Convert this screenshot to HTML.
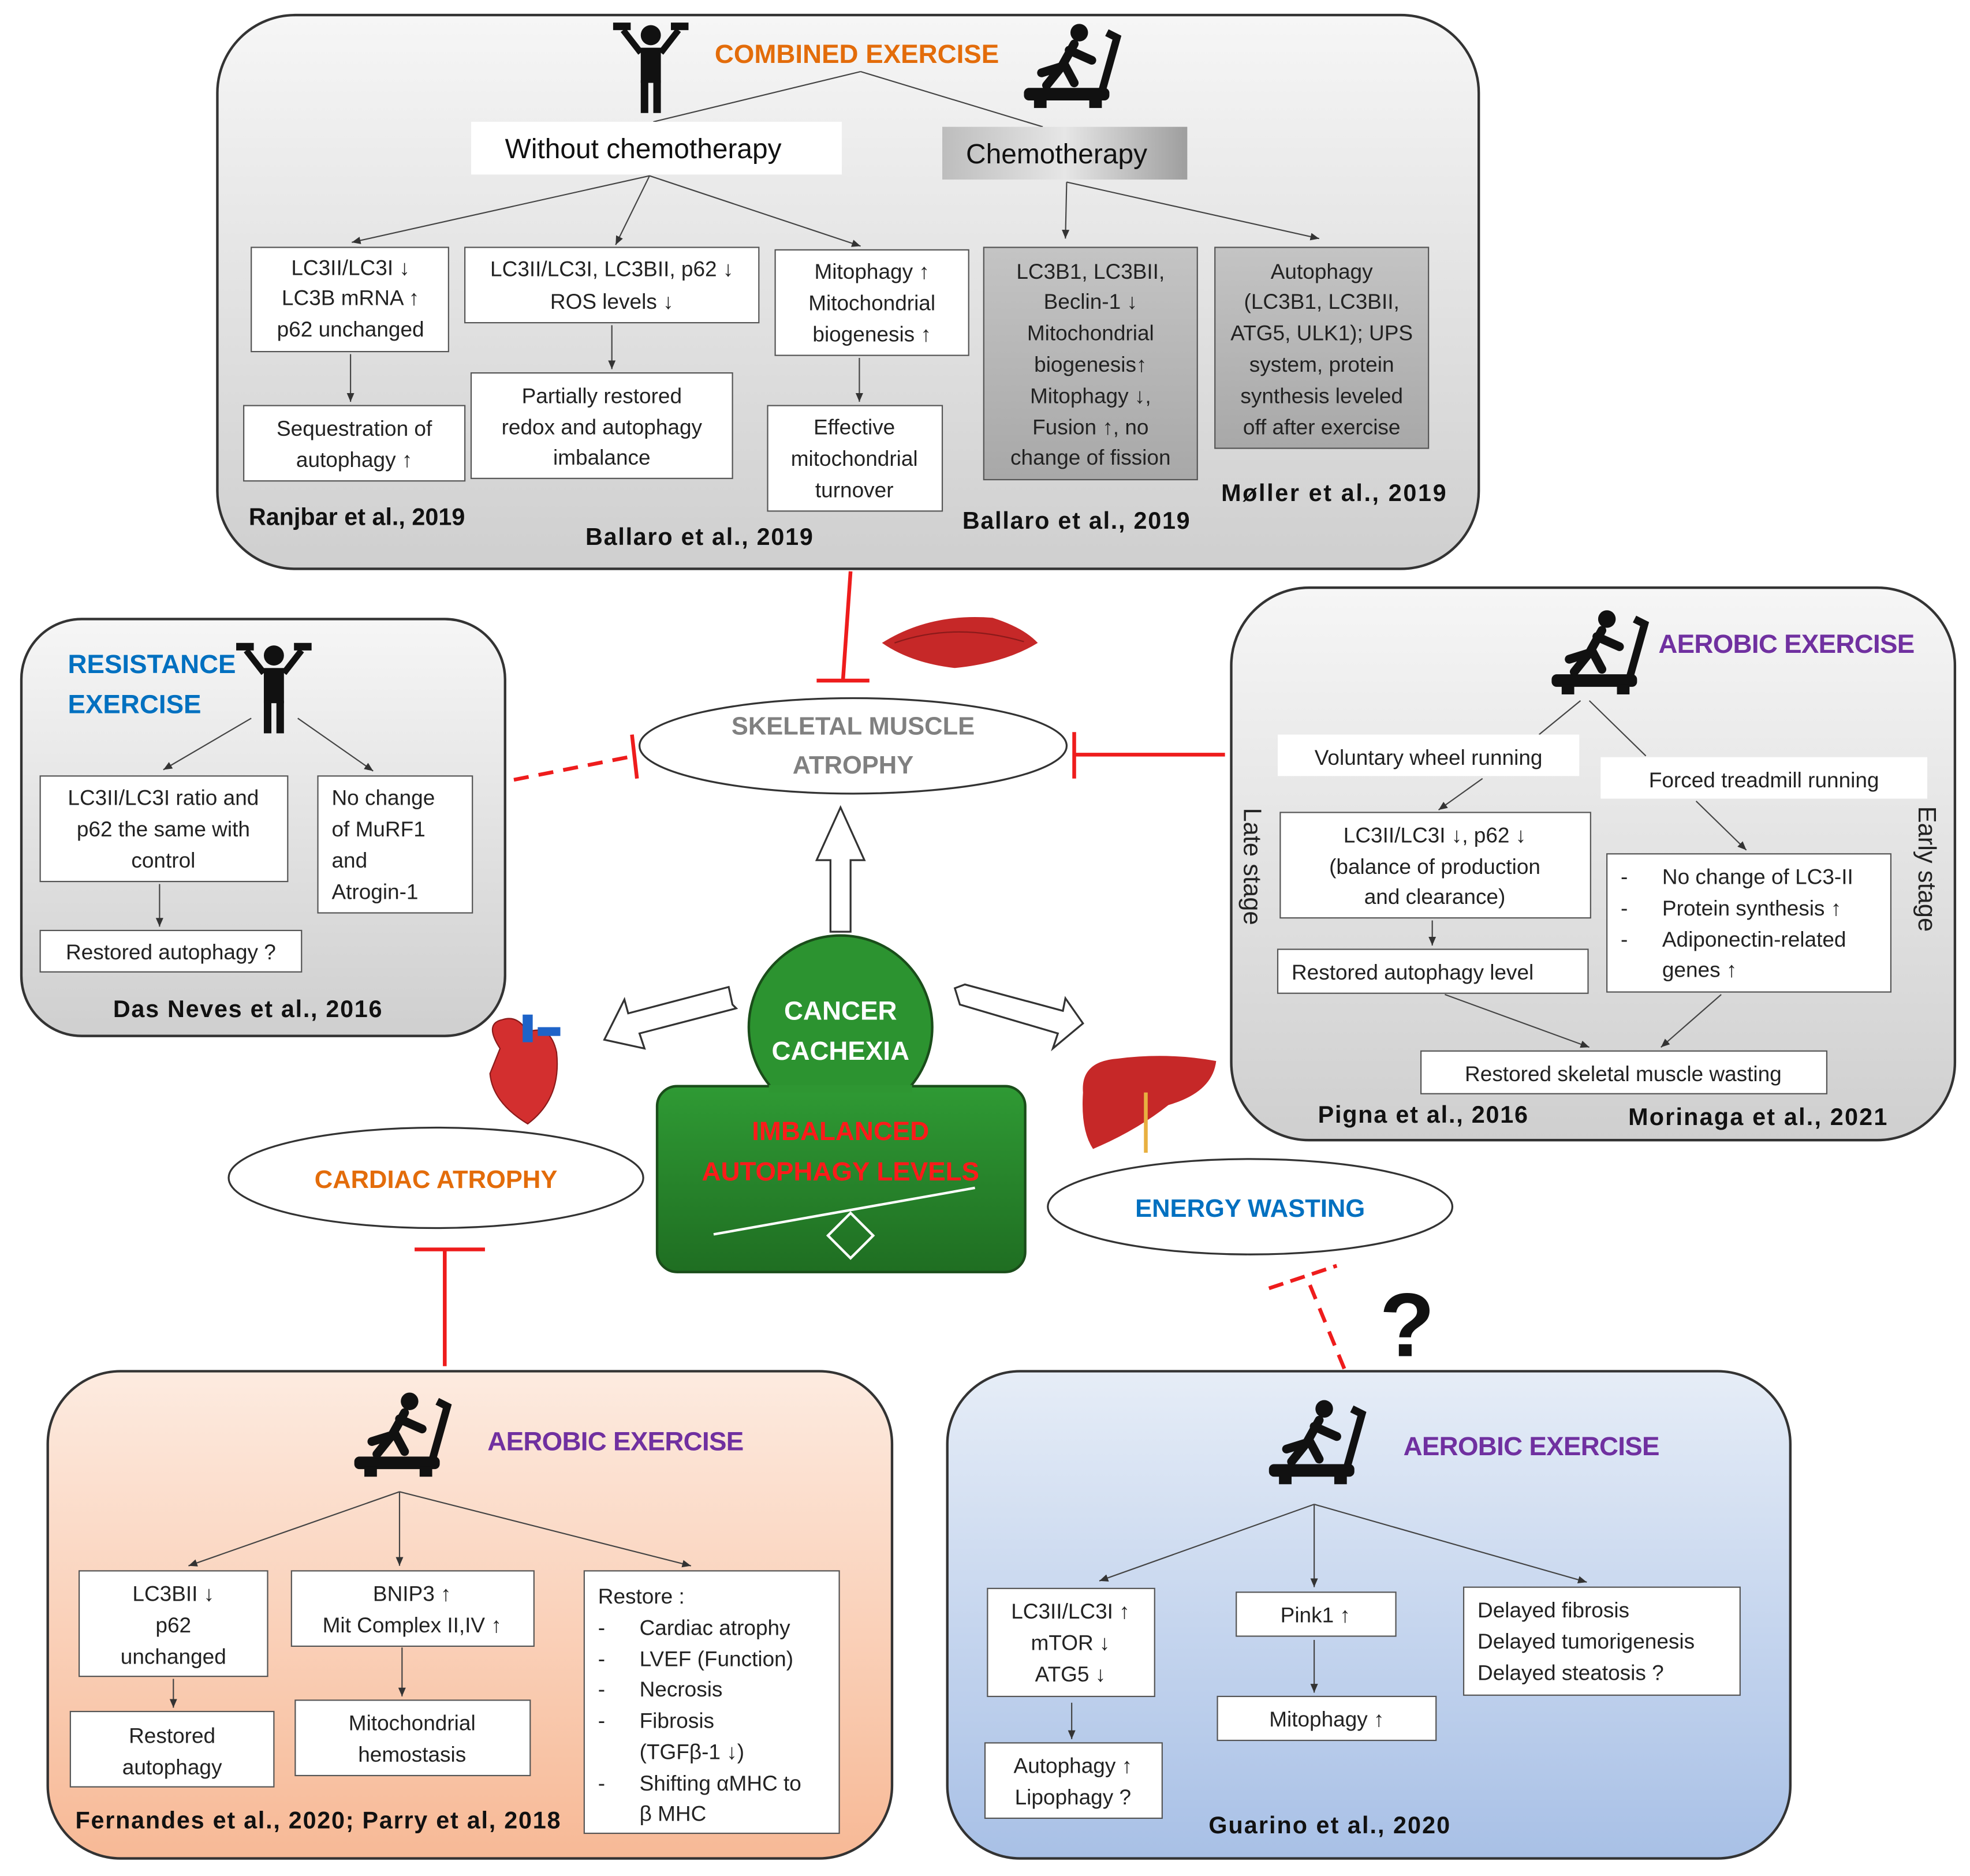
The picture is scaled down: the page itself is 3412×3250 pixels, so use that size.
<!DOCTYPE html>
<html><head><meta charset="utf-8"><style>
html,body{margin:0;padding:0;background:#fff}
svg{display:block}
text{font-family:"Liberation Sans","DejaVu Sans",sans-serif}
</style></head><body>
<svg width="3412" height="3250" viewBox="0 0 1568 1494" preserveAspectRatio="none" xmlns="http://www.w3.org/2000/svg">
<defs>
<linearGradient id="gg" x1="0" y1="0" x2="0" y2="1"><stop offset="0" stop-color="#f6f6f6"/><stop offset="1" stop-color="#cfcfcf"/></linearGradient>
<linearGradient id="pg" x1="0" y1="0" x2="0" y2="1"><stop offset="0" stop-color="#fdebe0"/><stop offset="1" stop-color="#f7b996"/></linearGradient>
<linearGradient id="bg" x1="0" y1="0" x2="0" y2="1"><stop offset="0" stop-color="#e6edf7"/><stop offset="1" stop-color="#a8c0e6"/></linearGradient>
<linearGradient id="cg" x1="0" y1="0" x2="1" y2="0"><stop offset="0" stop-color="#bdbdbd"/><stop offset="0.5" stop-color="#e6e6e6"/><stop offset="1" stop-color="#9e9e9e"/></linearGradient>
<linearGradient id="dg" x1="0" y1="0" x2="0" y2="1"><stop offset="0" stop-color="#c4c4c4"/><stop offset="1" stop-color="#a8a8a8"/></linearGradient>
<linearGradient id="grn" x1="0" y1="0" x2="0" y2="1"><stop offset="0" stop-color="#2f9a34"/><stop offset="1" stop-color="#1f6e22"/></linearGradient>
<marker id="ar" markerWidth="8" markerHeight="8" refX="7" refY="4" orient="auto"><path d="M0,1 L7,4 L0,7 Z" fill="#333"/></marker>
<g id="run"><rect x="0" y="52" width="68" height="10" rx="4" fill="#111"/><rect x="8" y="60" width="10" height="8" fill="#111"/><rect x="52" y="60" width="10" height="8" fill="#111"/><path d="M62,55 L74,12 L66,8" stroke="#111" stroke-width="6" fill="none"/><circle cx="44" cy="8" r="7" fill="#111"/><path d="M40,17 L30,35 L14,40 M36,22 L54,30 M32,33 L40,48 M30,35 L18,50" stroke="#111" stroke-width="7" fill="none" stroke-linecap="round"/></g>
<g id="lift"><circle cx="30" cy="10" r="8" fill="#111"/><rect x="22" y="20" width="16" height="28" fill="#111"/><rect x="22" y="46" width="6" height="26" fill="#111"/><rect x="32" y="46" width="6" height="26" fill="#111"/><path d="M22,24 L8,6 M38,24 L52,6" stroke="#111" stroke-width="5"/><rect x="0" y="0" width="14" height="6" fill="#111"/><rect x="46" y="0" width="14" height="6" fill="#111"/></g>
</defs>

<rect x="173" y="12" width="1004" height="441" rx="62" fill="url(#gg)" stroke="#333" stroke-width="2"/>
<use href="#lift" x="488" y="18"/>
<use href="#run" x="815" y="18"/>
<text x="682" y="50" font-size="21" font-weight="bold" fill="#e36c0a" text-anchor="middle">COMBINED EXERCISE</text>
<line x1="685" y1="57" x2="520" y2="97" stroke="#444" stroke-width="1"/>
<line x1="685" y1="57" x2="830" y2="101" stroke="#444" stroke-width="1"/>
<rect x="375" y="97" width="295" height="42" fill="#fff"/>
<text x="512" y="126" font-size="22" text-anchor="middle" fill="#111">Without chemotherapy</text>
<rect x="750" y="101" width="195" height="42" fill="url(#cg)"/>
<text x="841" y="130" font-size="22" text-anchor="middle" fill="#111">Chemotherapy</text>
<g stroke="#444" stroke-width="1" fill="none" marker-end="url(#ar)">
<line x1="517" y1="140" x2="280" y2="193"/><line x1="517" y1="140" x2="490" y2="195"/><line x1="517" y1="140" x2="685" y2="196"/>
<line x1="849" y1="145" x2="848" y2="190"/><line x1="849" y1="145" x2="1050" y2="190"/>
<line x1="279" y1="282" x2="279" y2="320"/><line x1="487" y1="259" x2="487" y2="294"/><line x1="684" y1="285" x2="684" y2="320"/>
</g>
<g font-size="17" fill="#222" text-anchor="middle">
<rect x="200" y="197" width="157" height="83" fill="#fff" stroke="#555"/>
<text x="279" y="219">LC3II/LC3I ↓</text><text x="279" y="243">LC3B mRNA ↑</text><text x="279" y="268">p62 unchanged</text>
<rect x="370" y="197" width="234" height="60" fill="#fff" stroke="#555"/>
<text x="487" y="220">LC3II/LC3I, LC3BII, p62 ↓</text><text x="487" y="246">ROS levels ↓</text>
<rect x="617" y="199" width="154" height="84" fill="#fff" stroke="#555"/>
<text x="694" y="222">Mitophagy ↑</text><text x="694" y="247">Mitochondrial</text><text x="694" y="272">biogenesis ↑</text>
<rect x="783" y="197" width="170" height="185" fill="url(#dg)" stroke="#555"/>
<text x="868" y="222">LC3B1, LC3BII,</text><text x="868" y="246">Beclin-1 ↓</text><text x="868" y="271">Mitochondrial</text><text x="868" y="296">biogenesis↑</text><text x="868" y="321">Mitophagy ↓,</text><text x="868" y="346">Fusion ↑, no</text><text x="868" y="370">change of fission</text>
<rect x="967" y="197" width="170" height="160" fill="url(#dg)" stroke="#555"/>
<text x="1052" y="222">Autophagy</text><text x="1052" y="246">(LC3B1, LC3BII,</text><text x="1052" y="271">ATG5, ULK1); UPS</text><text x="1052" y="296">system, protein</text><text x="1052" y="321">synthesis leveled</text><text x="1052" y="346">off after exercise</text>
<rect x="194" y="323" width="176" height="60" fill="#fff" stroke="#555"/>
<text x="282" y="347">Sequestration of</text><text x="282" y="372">autophagy ↑</text>
<rect x="375" y="297" width="208" height="84" fill="#fff" stroke="#555"/>
<text x="479" y="321">Partially restored</text><text x="479" y="346">redox and autophagy</text><text x="479" y="370">imbalance</text>
<rect x="611" y="323" width="139" height="84" fill="#fff" stroke="#555"/>
<text x="680" y="346">Effective</text><text x="680" y="371">mitochondrial</text><text x="680" y="396">turnover</text>
</g>
<g font-size="19" font-weight="bold" fill="#111">
<text x="198" y="418">Ranjbar et al., 2019</text>
<text x="466" y="434" textLength="181">Ballaro et al., 2019</text>
<text x="766" y="421" textLength="181">Ballaro et al., 2019</text>
<text x="972" y="399" textLength="179">Møller et al., 2019</text>
</g>

<rect x="17" y="493" width="385" height="332" rx="48" fill="url(#gg)" stroke="#333" stroke-width="2"/>
<text x="54" y="536" font-size="21" font-weight="bold" fill="#0070c0">RESISTANCE</text>
<text x="54" y="568" font-size="21" font-weight="bold" fill="#0070c0">EXERCISE</text>
<use href="#lift" x="188" y="512"/>
<g stroke="#444" stroke-width="1" fill="none" marker-end="url(#ar)">
<line x1="200" y1="572" x2="130" y2="613"/><line x1="237" y1="572" x2="297" y2="614"/><line x1="127" y1="704" x2="127" y2="738"/>
</g>
<g font-size="17" fill="#222" text-anchor="middle">
<rect x="32" y="618" width="197" height="84" fill="#fff" stroke="#555"/>
<text x="130" y="641">LC3II/LC3I ratio  and</text><text x="130" y="666">p62 the same with</text><text x="130" y="691">control</text>
<rect x="253" y="618" width="123" height="109" fill="#fff" stroke="#555"/>
<g text-anchor="start"><text x="264" y="641">No change</text><text x="264" y="666">of MuRF1</text><text x="264" y="691">and</text><text x="264" y="716">Atrogin-1</text></g>
<rect x="32" y="741" width="208" height="33" fill="#fff" stroke="#555"/>
<text x="136" y="764">Restored autophagy ?</text>
</g>
<text x="90" y="810" font-size="19" font-weight="bold" fill="#111" textLength="214">Das Neves et al., 2016</text>

<rect x="980" y="468" width="576" height="440" rx="62" fill="url(#gg)" stroke="#333" stroke-width="2"/>
<use href="#run" x="1235" y="485"/>
<text x="1320" y="520" font-size="21" font-weight="bold" fill="#7030a0" textLength="204">AEROBIC EXERCISE</text>
<line x1="1258" y1="558" x2="1225" y2="585" stroke="#444"/>
<line x1="1265" y1="558" x2="1310" y2="602" stroke="#444"/>
<rect x="1017" y="585" width="240" height="33" fill="#fff"/>
<text x="1137" y="609" font-size="17" text-anchor="middle" fill="#222">Voluntary wheel running</text>
<rect x="1274" y="603" width="260" height="33" fill="#fff"/>
<text x="1404" y="627" font-size="17" text-anchor="middle" fill="#222">Forced treadmill running</text>
<g stroke="#444" stroke-width="1" fill="none" marker-end="url(#ar)">
<line x1="1180" y1="620" x2="1145" y2="645"/><line x1="1350" y1="638" x2="1390" y2="677"/><line x1="1140" y1="733" x2="1140" y2="753"/>
<line x1="1150" y1="792" x2="1265" y2="834"/><line x1="1370" y1="792" x2="1322" y2="834"/>
</g>
<text transform="translate(990,690) rotate(90)" font-size="20" fill="#222" text-anchor="middle">Late stage</text>
<text transform="translate(1527,692) rotate(90)" font-size="20" fill="#222" text-anchor="middle">Early stage</text>
<g font-size="17" fill="#222">
<rect x="1019" y="647" width="247" height="84" fill="#fff" stroke="#555"/>
<g text-anchor="middle"><text x="1142" y="671">LC3II/LC3I ↓, p62 ↓</text><text x="1142" y="696">(balance of production</text><text x="1142" y="720">and clearance)</text></g>
<rect x="1279" y="680" width="226" height="110" fill="#fff" stroke="#555"/>
<text x="1290" y="704">-</text><text x="1323" y="704">No change of LC3-II</text>
<text x="1290" y="729">-</text><text x="1323" y="729">Protein synthesis ↑</text>
<text x="1290" y="754">-</text><text x="1323" y="754">Adiponectin-related</text>
<text x="1323" y="778">genes  ↑</text>
<rect x="1017" y="756" width="247" height="35" fill="#fff" stroke="#555"/>
<text x="1028" y="780">Restored autophagy level</text>
<rect x="1131" y="837" width="323" height="34" fill="#fff" stroke="#555"/>
<text x="1292" y="861" text-anchor="middle">Restored skeletal muscle wasting</text>
</g>
<text x="1049" y="894" font-size="19" font-weight="bold" fill="#111" textLength="167">Pigna et al., 2016</text>
<text x="1296" y="896" font-size="19" font-weight="bold" fill="#111" textLength="206">Morinaga et al., 2021</text>

<circle cx="669" cy="818" r="73" fill="#2c9330" stroke="#1a4d1a" stroke-width="2"/>
<rect x="523" y="865" width="293" height="148" rx="16" fill="url(#grn)" stroke="#1a4d1a" stroke-width="2"/>
<rect x="612" y="864" width="114" height="6" fill="#2e9632"/>
<text x="669" y="812" font-size="21" font-weight="bold" fill="#fff" text-anchor="middle">CANCER</text>
<text x="669" y="844" font-size="21" font-weight="bold" fill="#fff" text-anchor="middle">CACHEXIA</text>
<text x="669" y="908" font-size="21" font-weight="bold" fill="#ff1a1a" text-anchor="middle">IMBALANCED</text>
<text x="669" y="940" font-size="21" font-weight="bold" fill="#ff1a1a" text-anchor="middle">AUTOPHAGY LEVELS</text>
<line x1="568" y1="983" x2="776" y2="946" stroke="#fff" stroke-width="2"/>
<path d="M677,966 L695,984 L677,1002 L659,984 Z" fill="none" stroke="#fff" stroke-width="2"/>

<path d="M661,742 L661,685 L650,685 L669,643 L688,685 L677,685 L677,742 Z" fill="#fff" stroke="#333" stroke-width="1.5"/>
<path d="M583,800 L580,786 L500,807 L497,796 L481,828 L513,835 L509,823 L586,803 Z" fill="#fff" stroke="#333" stroke-width="1.5"/>
<path d="M760,787 L764,800 L842,823 L838,835 L862,815 L848,795 L846,805 L768,784 Z" fill="#fff" stroke="#333" stroke-width="1.5"/>

<ellipse cx="679" cy="594" rx="170" ry="38" fill="#fff" stroke="#333" stroke-width="1.5"/>
<text x="679" y="585" font-size="20" font-weight="bold" fill="#808080" text-anchor="middle">SKELETAL MUSCLE</text>
<text x="679" y="616" font-size="20" font-weight="bold" fill="#808080" text-anchor="middle">ATROPHY</text>
<ellipse cx="347" cy="938" rx="165" ry="40" fill="#fff" stroke="#333" stroke-width="1.5"/>
<text x="347" y="946" font-size="20" font-weight="bold" fill="#e36c0a" text-anchor="middle">CARDIAC ATROPHY</text>
<ellipse cx="995" cy="961" rx="161" ry="38" fill="#fff" stroke="#333" stroke-width="1.5"/>
<text x="995" y="969" font-size="20" font-weight="bold" fill="#0070c0" text-anchor="middle">ENERGY WASTING</text>

<g stroke="#ee1c1c" stroke-width="3" fill="none">
<line x1="677" y1="455" x2="671" y2="541"/><line x1="650" y1="542" x2="692" y2="542"/>
<line x1="975" y1="601" x2="855" y2="601"/><line x1="855" y1="583" x2="855" y2="620"/>
<line x1="409" y1="621" x2="505" y2="602" stroke-dasharray="12,8"/><line x1="503" y1="585" x2="507" y2="620"/>
<line x1="354" y1="1088" x2="354" y2="995"/><line x1="330" y1="995" x2="386" y2="995"/>
<line x1="1070" y1="1090" x2="1040" y2="1017" stroke-dasharray="12,8"/><line x1="1010" y1="1026" x2="1064" y2="1008" stroke-dasharray="12,6"/>
</g>
<text x="1120" y="1080" font-size="72" font-weight="bold" fill="#111" text-anchor="middle">?</text>

<path d="M702,512 Q740,488 790,492 Q815,500 826,512 Q800,528 760,532 Q725,528 702,512 Z" fill="#c62828"/>
<path d="M712,512 Q760,495 815,511" stroke="#8b1a1a" fill="none"/>
<path d="M398,835 Q385,815 400,812 Q412,808 420,822 Q438,815 443,838 Q447,875 420,895 Q392,878 390,855 Z" fill="#d32f2f" stroke="#8b1a1a"/>
<rect x="416" y="808" width="8" height="22" fill="#1e63c8"/><rect x="428" y="818" width="18" height="7" fill="#1e63c8"/>
<path d="M862,870 Q860,845 890,843 Q930,838 968,845 Q965,870 930,880 Q905,900 870,915 Q860,900 862,870 Z" fill="#c62828"/>
<line x1="912" y1="870" x2="912" y2="918" stroke="#e8b040" stroke-width="3"/>

<rect x="38" y="1092" width="672" height="388" rx="58" fill="url(#pg)" stroke="#333" stroke-width="2"/>
<use href="#run" x="282" y="1108"/>
<text x="388" y="1155" font-size="21" font-weight="bold" fill="#7030a0" textLength="204">AEROBIC EXERCISE</text>
<g stroke="#444" stroke-width="1" fill="none" marker-end="url(#ar)">
<line x1="318" y1="1188" x2="150" y2="1247"/><line x1="318" y1="1188" x2="318" y2="1247"/><line x1="318" y1="1188" x2="550" y2="1247"/>
<line x1="138" y1="1337" x2="138" y2="1360"/><line x1="320" y1="1312" x2="320" y2="1351"/>
</g>
<g font-size="17" fill="#222" text-anchor="middle">
<rect x="63" y="1251" width="150" height="84" fill="#fff" stroke="#555"/>
<text x="138" y="1275">LC3BII ↓</text><text x="138" y="1300">p62</text><text x="138" y="1325">unchanged</text>
<rect x="232" y="1251" width="193" height="60" fill="#fff" stroke="#555"/>
<text x="328" y="1275">BNIP3 ↑</text><text x="328" y="1300">Mit Complex II,IV ↑</text>
<rect x="56" y="1363" width="162" height="60" fill="#fff" stroke="#555"/>
<text x="137" y="1388">Restored</text><text x="137" y="1413">autophagy</text>
<rect x="235" y="1354" width="187" height="60" fill="#fff" stroke="#555"/>
<text x="328" y="1378">Mitochondrial</text><text x="328" y="1403">hemostasis</text>
<rect x="465" y="1251" width="203" height="209" fill="#fff" stroke="#555"/>
<g text-anchor="start">
<text x="476" y="1277">Restore :</text>
<text x="476" y="1302">-</text><text x="509" y="1302">Cardiac atrophy</text>
<text x="476" y="1327">-</text><text x="509" y="1327">LVEF (Function)</text>
<text x="476" y="1351">-</text><text x="509" y="1351">Necrosis</text>
<text x="476" y="1376">-</text><text x="509" y="1376">Fibrosis</text>
<text x="509" y="1401">(TGFβ-1 ↓)</text>
<text x="476" y="1426">-</text><text x="509" y="1426">Shifting αMHC to</text>
<text x="509" y="1450">β MHC</text>
</g>
</g>
<text x="60" y="1456" font-size="19" font-weight="bold" fill="#111" textLength="386">Fernandes et al., 2020; Parry et al, 2018</text>

<rect x="754" y="1092" width="671" height="388" rx="58" fill="url(#bg)" stroke="#333" stroke-width="2"/>
<use href="#run" x="1010" y="1114"/>
<text x="1117" y="1159" font-size="21" font-weight="bold" fill="#7030a0" textLength="204">AEROBIC EXERCISE</text>
<g stroke="#444" stroke-width="1" fill="none" marker-end="url(#ar)">
<line x1="1046" y1="1198" x2="875" y2="1259"/><line x1="1046" y1="1198" x2="1046" y2="1264"/><line x1="1046" y1="1198" x2="1263" y2="1260"/>
<line x1="853" y1="1356" x2="853" y2="1385"/><line x1="1046" y1="1306" x2="1046" y2="1348"/>
</g>
<g font-size="17" fill="#222" text-anchor="middle">
<rect x="786" y="1265" width="133" height="86" fill="#fff" stroke="#555"/>
<text x="852" y="1289">LC3II/LC3I ↑</text><text x="852" y="1314">mTOR ↓</text><text x="852" y="1339">ATG5 ↓</text>
<rect x="984" y="1268" width="127" height="35" fill="#fff" stroke="#555"/>
<text x="1047" y="1292">Pink1 ↑</text>
<rect x="969" y="1351" width="174" height="35" fill="#fff" stroke="#555"/>
<text x="1056" y="1375">Mitophagy ↑</text>
<rect x="784" y="1388" width="141" height="60" fill="#fff" stroke="#555"/>
<text x="854" y="1412">Autophagy ↑</text><text x="854" y="1437">Lipophagy ?</text>
<rect x="1165" y="1264" width="220" height="86" fill="#fff" stroke="#555"/>
<g text-anchor="start"><text x="1176" y="1288">Delayed fibrosis</text><text x="1176" y="1313">Delayed tumorigenesis</text><text x="1176" y="1338">Delayed steatosis ?</text></g>
</g>
<text x="962" y="1460" font-size="19" font-weight="bold" fill="#111" textLength="192">Guarino et al., 2020</text>
</svg>
</body></html>
